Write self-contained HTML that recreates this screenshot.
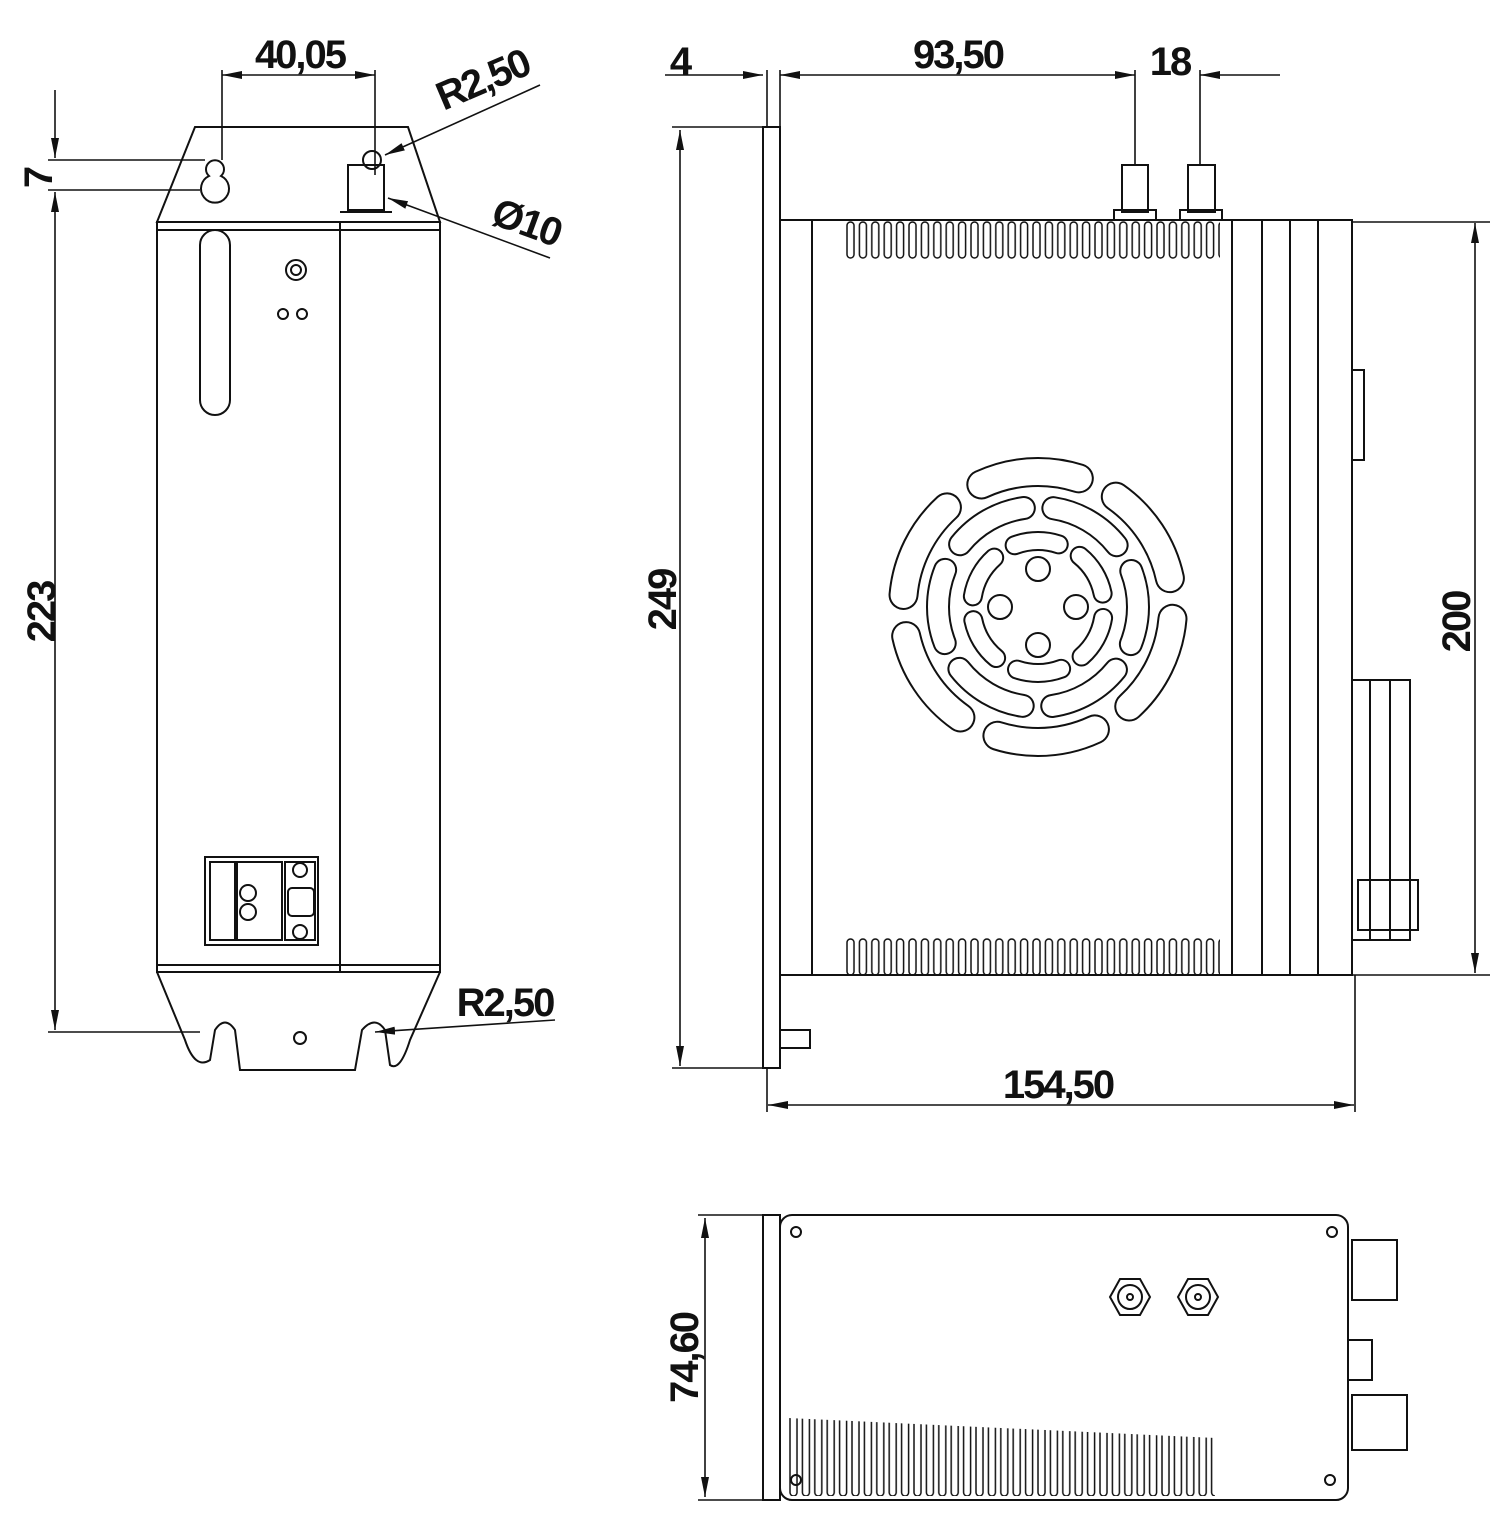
<!DOCTYPE html>
<html><head><meta charset="utf-8"><style>
html,body{margin:0;padding:0;background:#fff;}
svg{display:block;}
text{font-family:"Liberation Sans",sans-serif;font-weight:bold;font-size:40px;fill:#111;letter-spacing:-2px;}
</style></head><body>
<svg width="1510" height="1513" viewBox="0 0 1510 1513" xmlns="http://www.w3.org/2000/svg">
<defs>
<marker id="a" viewBox="0 0 20 10" refX="20" refY="5" markerWidth="20" markerHeight="10" markerUnits="userSpaceOnUse" orient="auto-start-reverse"><path d="M0,1 L20,5 L0,9 z" fill="#111"/></marker>
<pattern id="slots" x="845" y="221" width="12.4" height="717" patternUnits="userSpaceOnUse"><rect x="2" y="1" width="7" height="36" rx="3.5" fill="none" stroke="#111" stroke-width="1.5"/></pattern>
<pattern id="slots2" x="788" y="1398" width="12.4" height="100" patternUnits="userSpaceOnUse"><rect x="2" y="0" width="7" height="98" rx="3.5" fill="none" stroke="#111" stroke-width="1.5"/></pattern>
</defs>
<g fill="none" stroke="#111" stroke-width="2">
<!-- LEFT VIEW -->
<path d="M157,222 L195,127 L408,127 L440,222 Z"/>
<rect x="157" y="222" width="283" height="750"/>
<line x1="157" y1="230" x2="440" y2="230"/>
<line x1="157" y1="965" x2="440" y2="965"/>
<line x1="340" y1="222" x2="340" y2="972"/>
<path d="M157,972 L185,1040 Q195,1070 210,1060 L215,1030 Q225,1015 235,1030 L240,1070 L355,1070 L362,1030 Q375,1015 385,1030 L390,1065 Q400,1072 410,1040 L440,972"/>
<path d="M209,176 A9,9 0 1 1 221,176 A14,14 0 1 1 209,176 Z"/>
<rect x="348" y="165" width="36" height="45"/><line x1="340" y1="212" x2="392" y2="212"/>
<circle cx="372" cy="160" r="9"/>
<rect x="200" y="230" width="30" height="185" rx="15"/>
<circle cx="296" cy="270" r="10"/><circle cx="296" cy="270" r="5"/>
<circle cx="283" cy="314" r="5"/><circle cx="302" cy="314" r="5"/>
<circle cx="300" cy="1038" r="6"/>
<rect x="205" y="857" width="113" height="88"/>
<rect x="210" y="862" width="25" height="78"/><rect x="237" y="862" width="45" height="78"/><rect x="285" y="862" width="30" height="78"/>
<circle cx="248" cy="893" r="8"/><circle cx="248" cy="912" r="8"/><circle cx="300" cy="870" r="7"/><circle cx="300" cy="932" r="7"/>
<rect x="288" y="888" width="26" height="28" rx="4"/>
<g stroke-width="1.6">
<line x1="222" y1="75" x2="375" y2="75" marker-start="url(#a)" marker-end="url(#a)"/>
<line x1="222" y1="70" x2="222" y2="160"/><line x1="375" y1="70" x2="375" y2="175"/>
<line x1="55" y1="90" x2="55" y2="158" marker-end="url(#a)"/>
<line x1="55" y1="192" x2="55" y2="1030" marker-start="url(#a)" marker-end="url(#a)"/>
<line x1="48" y1="160" x2="205" y2="160"/><line x1="48" y1="190" x2="200" y2="190"/>
<line x1="48" y1="1032" x2="200" y2="1032"/>
<line x1="385" y1="155" x2="540" y2="85" marker-start="url(#a)"/>
<line x1="388" y1="198" x2="550" y2="258" marker-start="url(#a)"/>
<line x1="375" y1="1032" x2="555" y2="1020" marker-start="url(#a)"/>
</g>
<!-- RIGHT VIEW -->
<rect x="763" y="127" width="17" height="941"/>
<rect x="780" y="220" width="572" height="755"/>
<line x1="812" y1="220" x2="812" y2="975"/>
<line x1="1232" y1="220" x2="1232" y2="975"/>
<line x1="1262" y1="220" x2="1262" y2="975"/>
<line x1="1290" y1="220" x2="1290" y2="975"/>
<line x1="1318" y1="220" x2="1318" y2="975"/>
<rect x="845" y="221" width="375" height="38" fill="url(#slots)" stroke="none"/>
<rect x="845" y="938" width="375" height="38" fill="url(#slots)" stroke="none"/>
<rect x="1122" y="165" width="26" height="47"/><rect x="1114" y="210" width="42" height="10"/>
<rect x="1188" y="165" width="27" height="47"/><rect x="1180" y="210" width="42" height="10"/>
<rect x="780" y="1030" width="30" height="18"/>
<rect x="1352" y="370" width="12" height="90"/>
<rect x="1352" y="680" width="58" height="260"/>
<line x1="1370" y1="680" x2="1370" y2="940"/><line x1="1390" y1="680" x2="1390" y2="940"/>
<rect x="1358" y="880" width="60" height="50"/>
<g transform="translate(1038,607)" stroke-linecap="round">
<circle r="135" stroke-width="30" stroke="#111" stroke-dasharray="100 41.4" stroke-dashoffset="-11.8"/>
<circle r="135" stroke-width="26" stroke="#fff" stroke-dasharray="100 41.4" stroke-dashoffset="-11.8"/>
<circle r="100" stroke-width="24" stroke="#111" stroke-dasharray="75 29.7" stroke-dashoffset="37"/>
<circle r="100" stroke-width="20" stroke="#fff" stroke-dasharray="75 29.7" stroke-dashoffset="37"/>
<circle r="66" stroke-width="20" stroke="#111" stroke-dasharray="45 24" stroke-dashoffset="-11"/>
<circle r="66" stroke-width="16" stroke="#fff" stroke-dasharray="45 24" stroke-dashoffset="-11"/>
<circle cx="0" cy="-38" r="12"/><circle cx="0" cy="38" r="12"/><circle cx="-38" cy="0" r="12"/><circle cx="38" cy="0" r="12"/>
</g>
<g stroke-width="1.6">
<line x1="665" y1="75" x2="763" y2="75" marker-end="url(#a)"/>
<line x1="780" y1="75" x2="1135" y2="75" marker-start="url(#a)" marker-end="url(#a)"/>
<line x1="1280" y1="75" x2="1200" y2="75" marker-end="url(#a)"/>
<line x1="767" y1="70" x2="767" y2="127"/><line x1="780" y1="70" x2="780" y2="127"/>
<line x1="1135" y1="70" x2="1135" y2="165"/><line x1="1200" y1="70" x2="1200" y2="165"/>
<line x1="680" y1="130" x2="680" y2="1066" marker-start="url(#a)" marker-end="url(#a)"/>
<line x1="672" y1="127" x2="763" y2="127"/><line x1="672" y1="1068" x2="763" y2="1068"/>
<line x1="1475" y1="223" x2="1475" y2="973" marker-start="url(#a)" marker-end="url(#a)"/>
<line x1="1352" y1="222" x2="1490" y2="222"/><line x1="1352" y1="975" x2="1490" y2="975"/>
<line x1="768" y1="1105" x2="1354" y2="1105" marker-start="url(#a)" marker-end="url(#a)"/>
<line x1="767" y1="1068" x2="767" y2="1112"/><line x1="1355" y1="975" x2="1355" y2="1112"/>
</g>
<!-- BOTTOM VIEW -->
<rect x="763" y="1215" width="17" height="285"/>
<rect x="780" y="1215" width="568" height="285" rx="12"/>
<circle cx="796" cy="1232" r="5"/><circle cx="1332" cy="1232" r="5"/><circle cx="796" cy="1480" r="5"/><circle cx="1330" cy="1480" r="5"/>
<polygon points="1110,1297 1120,1279 1140,1279 1150,1297 1140,1315 1120,1315"/><circle cx="1130" cy="1297" r="12"/><circle cx="1130" cy="1297" r="3"/>
<polygon points="1178,1297 1188,1279 1208,1279 1218,1297 1208,1315 1188,1315"/><circle cx="1198" cy="1297" r="12"/><circle cx="1198" cy="1297" r="3"/>
<rect x="788" y="1418" width="427" height="78" fill="url(#slots2)" stroke="none"/>
<rect x="1352" y="1240" width="45" height="60"/>
<rect x="1348" y="1340" width="24" height="40"/>
<rect x="1352" y="1395" width="55" height="55"/>
<g stroke-width="1.6">
<line x1="705" y1="1218" x2="705" y2="1497" marker-start="url(#a)" marker-end="url(#a)"/>
<line x1="698" y1="1215" x2="763" y2="1215"/><line x1="698" y1="1500" x2="763" y2="1500"/>
</g>
</g>
<polygon points="788,1416 1216,1416 1216,1438 788,1418" fill="#fff"/>
<text x="300" y="68" text-anchor="middle">40,05</text>
<text transform="translate(52,178) rotate(-90)" text-anchor="middle">7</text>
<text transform="translate(55,612) rotate(-90)" text-anchor="middle">223</text>
<text transform="translate(488,92) rotate(-23)" text-anchor="middle">R2,50</text>
<text transform="translate(522,235) rotate(20)" text-anchor="middle">Ø10</text>
<text x="505" y="1016" text-anchor="middle">R2,50</text>
<text x="680" y="75" text-anchor="middle">4</text>
<text x="958" y="68" text-anchor="middle">93,50</text>
<text x="1170" y="75" text-anchor="middle">18</text>
<text transform="translate(676,600) rotate(-90)" text-anchor="middle">249</text>
<text transform="translate(1470,622) rotate(-90)" text-anchor="middle">200</text>
<text x="1058" y="1098" text-anchor="middle">154,50</text>
<text transform="translate(698,1358) rotate(-90)" text-anchor="middle">74,60</text>
</svg>
</body></html>
